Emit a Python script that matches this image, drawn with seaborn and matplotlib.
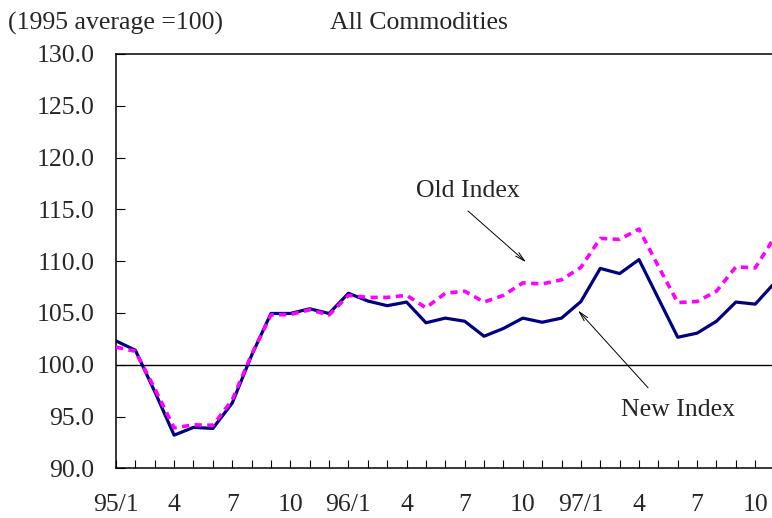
import matplotlib
matplotlib.use("Agg")
import matplotlib.pyplot as plt
import seaborn as sns
import pandas as pd

# ---- data ----
months = list(range(35))  # 95/1 ... 97/11
new_index = [102.3, 101.4, 97.4, 93.2, 93.95, 93.85, 96.3, 100.9, 104.95, 104.95,
             105.4, 104.95, 106.9, 106.15, 105.7, 106.05, 104.05, 104.5, 104.2, 102.75,
             103.5, 104.5, 104.1, 104.5, 106.1, 109.3, 108.8, 110.15, 106.4, 102.65,
             103.05, 104.2, 106.05, 105.85, 107.9]
old_index = [101.7, 101.3, 97.7, 93.9, 94.2, 94.15, 96.6, 101.0, 104.8, 104.85,
             105.3, 104.8, 106.7, 106.5, 106.5, 106.7, 105.5, 106.9, 107.1, 106.05,
             106.7, 107.9, 107.8, 108.2, 109.4, 112.2, 112.1, 113.1, 109.5, 106.0,
             106.1, 107.1, 109.45, 109.35, 112.3]
tick_pos = [0, 3, 6, 9, 12, 15, 18, 21, 24, 27, 30, 33]
tick_labels = ["95/1", "4", "7", "10", "96/1", "4", "7", "10", "97/1", "4", "7", "10"]
y_ticks = [90, 95, 100, 105, 110, 115, 120, 125, 130]

df = pd.DataFrame({"month": months, "new": new_index, "old": old_index})

sns.set_style("white")
plt.rcParams["font.family"] = ["Liberation Serif", "DejaVu Serif"]
FS = 18.5

fig = plt.figure(figsize=(7.72, 5.18), dpi=100)
ax = fig.add_axes([116 / 772, 1 - 468.3 / 518, (774.6 - 116) / 772, (468.3 - 54) / 518])

ax.axhline(100, color="black", lw=1.0, zorder=1)
sns.lineplot(data=df, x="month", y="new", ax=ax, color="#000080", lw=2.3,
             zorder=3, legend=False)
sns.lineplot(data=df, x="month", y="old", ax=ax, color="#FF00FF", lw=2.6,
             linestyle=(0, (2.0, 1.5)), zorder=4, legend=False)

ax.set_xlim(0, 34)
ax.set_ylim(90, 130)
ax.set_xticks(tick_pos)
ax.set_xticklabels(tick_labels)
ax.set_xticks(months, minor=True)
ax.set_yticks(y_ticks)
ax.set_yticklabels([f"{v:.1f}" for v in y_ticks])
ax.set_xlabel("")
ax.set_ylabel("")

ax.tick_params(axis="x", which="both", direction="in", length=5.5, width=0.8,
               color="black", labelsize=FS, pad=18.5, bottom=True)
ax.tick_params(axis="y", which="both", direction="in", length=6.5, width=0.8,
               color="black", labelsize=FS, pad=15.5, left=True)

for side in ["left", "bottom", "top"]:
    ax.spines[side].set_visible(True)
    ax.spines[side].set_color("black")
    ax.spines[side].set_linewidth(1.1)
ax.spines["right"].set_visible(False)

# annotations
arrow = dict(arrowstyle="->,head_length=0.7,head_width=0.17", lw=0.7,
             color="black", shrinkA=0, shrinkB=0)
ax.annotate("", xy=(21.17, 109.9), xytext=(18.17, 114.85), arrowprops=arrow)
ax.text(18.17, 116.8, "Old Index", fontsize=FS, ha="center", va="center")
ax.annotate("", xy=(23.85, 105.24), xytext=(27.47, 97.77), arrowprops=arrow)
ax.text(29.0, 95.6, "New Index", fontsize=FS, ha="center", va="center")

fig.text(8 / 772, 1 - 23 / 518, "(1995 average =100)", fontsize=FS,
         ha="left", va="center")
fig.text(419 / 772, 1 - 23 / 518, "All Commodities", fontsize=FS,
         ha="center", va="center")

fig.savefig("out.png", dpi=100)
